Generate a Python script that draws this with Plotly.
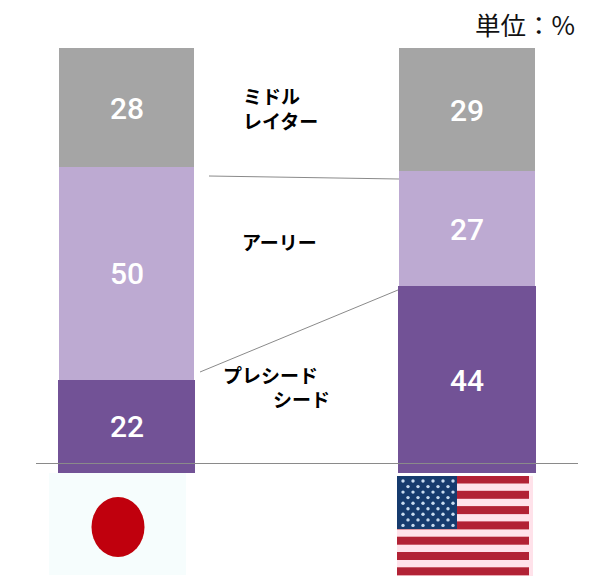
import base64
import plotly.graph_objects as go

W, H = 597, 576

countries = ["日本", "米国"]
pre_seed = [22, 44]
early = [50, 27]
middle_later = [28, 29]

COLOR_PRE = "#725296"
COLOR_EARLY = "#bdaad2"
COLOR_LATER = "#a5a5a5"
LABEL_FONT = "Noto Sans CJK JP"
VALUE_FONT = "Roboto"

# Axis ranges chosen so the full figure is the plot area.
px_per_cat = 340.5
px_per_pct = 4.25
x0_px, y0_px = 126.5, 473
x_range = [-x0_px / px_per_cat, (W - x0_px) / px_per_cat]
y_range = [-(H - y0_px) / px_per_pct, y0_px / px_per_pct]


def bar(name, values, color, widths):
    return go.Bar(
        x=countries, y=values, name=name, width=widths,
        marker=dict(color=color, line=dict(width=0)),
        cliponaxis=False, hoverinfo="name+y",
    )


fig = go.Figure([
    bar("プレシード・シード", pre_seed, COLOR_PRE, [0.405, 0.408]),
    bar("アーリー", early, COLOR_EARLY, [0.398, 0.397]),
    bar("ミドル・レイター", middle_later, COLOR_LATER, [0.398, 0.397]),
])


def px(x):
    return x / W


def py(y):
    return 1 - y / H


def label(text, x, y, size=19, family=LABEL_FONT, weight=700, anchor="left", color="#000000"):
    return dict(
        text=text, x=px(x), y=py(y), xref="paper", yref="paper",
        xanchor=anchor, yanchor="middle", align="left", showarrow=False,
        font=dict(family=family, size=size, color=color, weight=weight),
    )


def value_labels():
    # Centre each value on its own stacked segment.
    notes = []
    for i, country in enumerate(countries):
        base = 0
        for series in (pre_seed, early, middle_later):
            value = series[i]
            notes.append(dict(
                text=str(value), x=country, y=base + value / 2, xref="x", yref="y",
                yshift=-0.5, showarrow=False,
                font=dict(family=VALUE_FONT, size=30, color="white", weight=500),
            ))
            base += value
    return notes


def rule(x1, y1, x2, y2, color="#8a8a8a", width=1):
    return dict(
        type="line", xref="paper", yref="paper", layer="above",
        x0=px(x1), y0=py(y1), x1=px(x2), y1=py(y2),
        line=dict(color=color, width=width),
    )


def svg_image(svg, x, y, w, h):
    uri = "data:image/svg+xml;base64," + base64.b64encode(svg.encode()).decode()
    return dict(
        source=uri, xref="paper", yref="paper", x=px(x), y=py(y),
        sizex=w / W, sizey=h / H, xanchor="left", yanchor="top",
        sizing="stretch", layer="above",
    )


SOFT = '<filter id="s" x="-5%" y="-5%" width="110%" height="110%"><feGaussianBlur stdDeviation="0.65"/></filter>'

# Japanese flag
japan_svg = (
    f'<svg xmlns="http://www.w3.org/2000/svg" width="137" height="102" viewBox="0 0 137 102">{SOFT}'
    '<rect width="137" height="102" fill="#f6fdfd"/>'
    '<ellipse cx="69" cy="54" rx="26.5" ry="30" fill="#c00008" filter="url(#s)"/></svg>'
)

# American flag: thirteen stripes, canton, staggered star field
stripes = "".join(
    f'<rect x="0" y="{-0.5 + i * 15.3:.1f}" width="132" height="8" fill="#b22234"/>' for i in range(7)
)
stars = ""
for row in range(9):
    cols = 6 if row % 2 == 0 else 5
    for col in range(cols):
        cx = 6 + col * 10 + (5 if row % 2 else 0)
        cy = 5 + row * 5.55
        stars += f'<circle cx="{cx}" cy="{cy:.1f}" r="1.7" fill="#c8dcf0"/>'
usa_svg = (
    f'<svg xmlns="http://www.w3.org/2000/svg" width="136" height="100" viewBox="0 0 136 100">{SOFT}'
    '<rect width="136" height="100" fill="#ffe2ea"/>'
    f'<g filter="url(#s)">{stripes}<rect width="60" height="53" fill="#173a6e"/>{stars}</g></svg>'
)

fig.update_layout(
    width=W, height=H, barmode="stack", showlegend=False,
    margin=dict(l=0, r=0, t=0, b=0), paper_bgcolor="white", plot_bgcolor="white",
    xaxis=dict(visible=False, type="category", range=x_range, fixedrange=True),
    yaxis=dict(visible=False, range=y_range, fixedrange=True),
    shapes=[
        rule(36, 463.5, 578, 463.5),
        rule(209, 176, 399, 179),
        rule(200, 372, 398, 290),
    ],
    annotations=value_labels() + [
        label("単位：%", 473, 23, size=25.5, weight=400, color="#111111"),
        label("ミドル<br>レイター", 241, 108),
        label("アーリー", 240, 242),
        label("プレシード", 221, 374),
        label("シード", 271, 398),
    ],
    images=[
        svg_image(japan_svg, 49, 473, 137, 102),
        svg_image(usa_svg, 397, 476, 136, 100),
    ],
)

fig.write_html("out.html", config=dict(displayModeBar=False))
